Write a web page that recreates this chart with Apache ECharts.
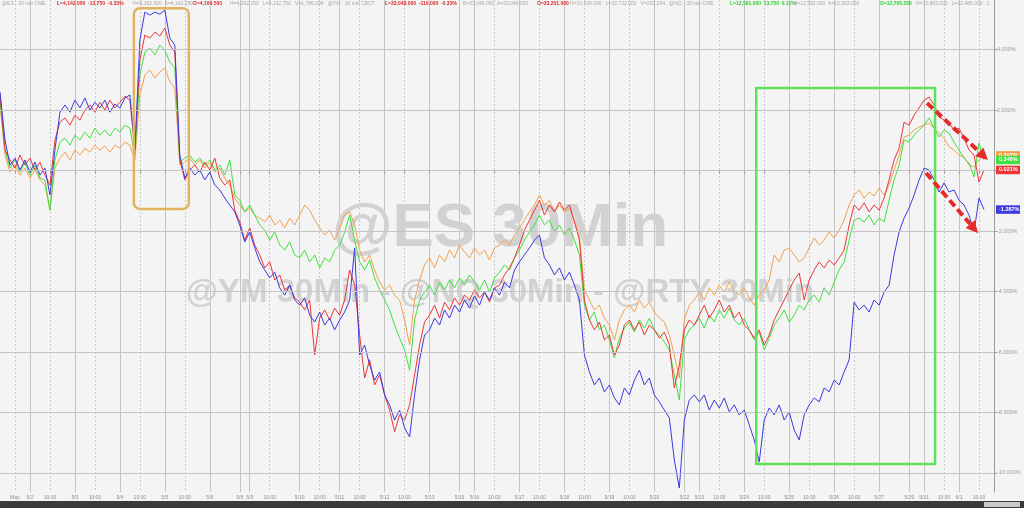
<!DOCTYPE html>
<html><head><meta charset="utf-8">
<script src="https://cdn.jsdelivr.net/npm/echarts@6/dist/echarts.min.js"></script>
<style>html,body{margin:0;padding:0;background:#f4f4f4}#c{width:1024px;height:508px}</style>
</head><body><div id="c"></div>
<script>
// ---- data ----
const slotCount = 200;
const labelSlots = [[3,'May'],[6,'5/2'],[10,'10:00'],[15,'5/3'],[19,'10:00'],[24,'5/4'],[28,'10:00'],[33,'5/5'],[37,'10:00'],[42,'5/6'],[48,'5/8'],[50,'5/9'],[54,'10:00'],[60,'5/10'],[64,'10:00'],[68,'5/11'],[72,'10:00'],[77,'5/12'],[81,'10:00'],[86,'5/13'],[92,'5/15'],[95,'5/16'],[99,'10:00'],[104,'5/17'],[108,'10:00'],[113,'5/18'],[117,'10:00'],[122,'5/19'],[126,'10:00'],[131,'5/20'],[137,'5/22'],[140,'5/23'],[144,'10:00'],[149,'5/24'],[153,'10:00'],[158,'5/25'],[162,'10:00'],[167,'5/26'],[171,'10:00'],[176,'5/27'],[182,'5/29'],[185,'5/31'],[189,'10:00'],[192,'6/1'],[196,'10:00']];

const nq = [2.60,1.01,0.18,0.41,0.02,0.35,-0.05,0.28,-0.15,0.08,
-0.81,0.68,1.93,2.17,1.93,2.33,2.07,2.40,2.00,2.26,
2.07,2.33,1.93,2.20,2.07,2.40,2.50,0.68,4.31,5.24,
5.14,5.24,5.17,5.31,4.38,4.15,0.51,-0.25,0.08,-0.15,
0.02,-0.31,-0.05,-0.48,-0.64,-0.91,-1.14,-1.37,-1.80,-2.36,
-2.03,-2.56,-3.02,-3.29,-3.55,-3.36,-3.88,-4.12,-3.79,-4.28,
-4.45,-4.21,-4.78,-5.01,-4.68,-5.11,-4.88,-5.27,-4.94,-4.68,
-4.28,-2.56,-6.10,-5.77,-6.43,-6.93,-6.66,-7.42,-7.75,-8.25,
-7.92,-8.51,-8.81,-7.42,-6.26,-5.44,-5.27,-4.88,-5.11,-4.61,
-4.88,-4.45,-4.68,-4.28,-4.55,-4.15,-4.45,-4.02,-4.28,-3.88,
-4.12,-3.69,-3.88,-3.29,-3.02,-2.79,-2.56,-2.30,-2.13,-2.89,
-3.12,-3.45,-3.22,-3.62,-3.36,-3.79,-4.28,-6.10,-6.66,-7.09,
-6.86,-7.32,-7.09,-7.52,-7.75,-7.19,-7.42,-6.93,-6.60,-7.09,
-6.86,-7.42,-7.65,-7.92,-8.18,-9.57,-10.50,-8.25,-7.59,-7.42,
-7.65,-7.42,-7.92,-7.59,-7.85,-7.52,-7.98,-7.75,-8.08,-7.92,
-8.41,-8.91,-9.64,-8.25,-7.85,-8.08,-7.75,-8.25,-7.98,-8.58,
-8.91,-8.08,-7.75,-7.52,-7.65,-7.19,-7.32,-6.93,-7.09,-6.66,
-6.26,-4.35,-4.61,-4.45,-4.68,-4.28,-4.45,-4.02,-3.79,-2.79,
-2.03,-1.57,-1.24,-0.81,-0.31,0.08,0.02,-0.31,-0.71,-0.41,
-0.71,-0.64,-0.98,-1.14,-1.47,-2.03,-0.91,-1.287];

const rty = [2.50,0.68,0.35,0.08,0.51,0.18,0.41,0.02,0.28,-0.15,
-0.48,1.01,1.60,1.74,1.50,1.83,1.67,2.00,2.17,1.93,
2.26,2.00,2.33,2.07,2.26,2.46,2.33,0.74,3.65,4.48,
4.38,4.58,4.45,4.71,4.15,3.92,0.35,-0.31,0.02,0.18,
-0.05,0.28,0.02,0.41,-0.25,-0.48,-0.31,-1.31,-1.70,-2.30,
-1.90,-2.46,-2.79,-3.22,-3.02,-3.62,-3.45,-3.95,-3.79,-4.21,
-4.35,-4.61,-4.28,-6.10,-4.88,-4.61,-4.94,-4.55,-4.78,-4.28,
-3.29,-3.79,-5.44,-6.86,-6.26,-7.09,-6.76,-7.42,-7.92,-8.64,
-8.08,-8.25,-7.75,-6.76,-5.77,-5.01,-4.78,-4.45,-4.88,-4.35,
-4.61,-4.21,-4.45,-4.12,-4.28,-3.95,-4.21,-4.02,-4.35,-3.88,
-3.79,-3.45,-3.22,-2.89,-2.46,-1.97,-1.64,-1.31,-0.98,-1.47,
-1.14,-1.37,-1.04,-1.31,-1.14,-1.70,-2.30,-4.28,-4.94,-5.27,
-5.01,-5.60,-5.44,-6.10,-5.77,-5.11,-4.94,-5.27,-5.01,-5.44,
-5.11,-5.27,-5.54,-5.34,-5.77,-7.19,-6.43,-5.27,-4.94,-5.11,
-4.78,-4.45,-4.88,-4.61,-4.28,-4.68,-4.45,-4.88,-4.68,-5.11,
-5.27,-5.54,-5.27,-5.77,-5.44,-4.94,-4.61,-4.28,-3.95,-3.62,
-3.39,-4.28,-3.62,-3.29,-3.02,-3.22,-2.96,-3.12,-2.89,-2.63,
-1.80,-1.14,-1.31,-1.07,-1.37,-1.14,-1.31,-0.91,-0.31,0.35,
0.74,1.60,1.50,1.83,2.07,2.33,2.43,2.17,1.77,1.67,
1.57,1.34,1.40,1.07,0.68,0.51,-0.38,0.021];

const es = [2.33,0.68,0.08,0.35,-0.05,0.28,-0.15,0.18,-0.25,-0.31,
-1.31,0.35,0.94,1.07,0.84,1.17,1.01,1.27,1.07,1.40,
1.17,1.34,1.14,1.40,1.27,1.50,1.40,0.51,3.16,3.92,
4.05,3.82,4.15,3.98,3.59,3.39,0.28,0.41,0.51,0.28,
0.41,0.18,0.35,0.02,0.18,-0.15,0.35,-0.81,-0.98,-1.37,
-1.14,-1.47,-1.80,-1.97,-2.30,-2.03,-2.46,-2.63,-2.36,-2.79,
-2.89,-2.63,-3.02,-2.79,-3.22,-2.89,-3.02,-2.63,-2.46,-2.03,
-1.47,-2.30,-3.02,-3.29,-2.96,-3.55,-3.95,-4.28,-4.61,-5.11,
-5.54,-5.93,-6.60,-4.94,-4.28,-4.02,-3.79,-4.12,-3.69,-3.95,
-3.62,-3.88,-3.55,-3.79,-3.45,-3.69,-3.95,-3.62,-4.02,-3.55,
-3.36,-3.12,-3.29,-2.89,-2.63,-2.30,-2.03,-1.80,-1.47,-1.80,
-1.64,-2.03,-1.80,-2.13,-1.90,-2.30,-2.79,-4.45,-4.94,-4.68,
-5.27,-5.11,-5.60,-6.20,-5.54,-5.21,-5.01,-5.34,-4.94,-5.21,
-4.88,-5.27,-5.44,-5.67,-5.93,-6.76,-7.59,-5.60,-5.27,-5.11,
-4.88,-5.21,-4.78,-5.01,-4.61,-4.88,-4.55,-4.94,-5.11,-4.88,
-5.27,-5.60,-5.34,-5.93,-5.54,-5.11,-4.88,-4.61,-5.01,-4.78,
-4.45,-4.61,-4.28,-4.12,-4.35,-3.88,-4.12,-3.69,-3.29,-3.02,
-2.30,-1.64,-1.57,-1.70,-1.47,-1.80,-1.57,-1.70,-0.98,-0.31,
0.18,1.01,0.94,1.17,1.34,1.50,1.74,1.40,1.11,1.34,
1.24,0.94,0.68,0.41,0.25,-0.21,0.91,0.346];

const ym = [2.17,0.51,-0.05,0.18,-0.15,0.08,-0.25,0.02,-0.31,-0.48,
-1.31,0.08,0.41,0.61,0.35,0.68,0.51,0.74,0.61,0.84,
0.68,0.81,0.61,0.84,0.74,0.94,0.84,0.35,2.50,3.16,
3.32,3.06,3.26,3.39,2.93,2.73,0.18,0.28,0.41,0.18,
0.35,0.08,0.28,-0.05,0.08,-0.25,-0.48,-0.91,-1.14,-1.37,
-1.24,-1.47,-1.57,-1.70,-1.47,-1.80,-1.64,-1.90,-1.57,-1.80,
-1.47,-1.14,-1.31,-1.64,-1.90,-2.13,-1.97,-2.30,-1.90,-1.47,
-1.37,-1.80,-2.63,-3.02,-2.79,-3.29,-3.69,-3.95,-3.79,-4.12,
-4.28,-4.94,-5.77,-4.28,-3.62,-3.12,-2.89,-3.22,-2.79,-3.02,
-2.63,-2.89,-2.46,-2.69,-2.89,-2.56,-2.79,-2.63,-2.96,-2.56,
-2.46,-2.30,-2.46,-2.13,-1.90,-1.64,-1.37,-1.14,-0.81,-1.14,
-0.98,-1.37,-1.14,-1.37,-1.24,-1.64,-2.13,-3.95,-4.28,-4.61,
-4.45,-4.88,-5.11,-5.60,-4.94,-4.61,-4.45,-4.68,-4.28,-4.55,
-4.35,-4.68,-4.88,-5.01,-5.44,-6.10,-6.86,-4.94,-4.45,-4.28,
-4.02,-4.28,-3.88,-4.12,-3.79,-4.02,-3.69,-3.95,-4.12,-3.88,
-4.21,-4.45,-4.12,-3.95,-3.62,-2.79,-3.02,-2.63,-2.56,-2.79,
-3.02,-2.89,-2.56,-2.23,-2.46,-2.30,-2.03,-2.23,-1.97,-1.64,
-1.14,-0.81,-0.64,-0.91,-0.71,-0.84,-0.58,-0.81,-0.48,0.02,
0.51,1.11,1.17,1.34,1.44,1.50,1.57,1.40,1.24,1.07,
0.78,0.68,0.51,0.45,0.18,0.12,0.35,0.497];

const yTicks = [-10,-8,-6,-4,-2,0,2,4];
const yRange = [-10.63, 5.64];

// annotations in data space (x = time slot, y = percent)
const orangeBox = {x:[26.8,37.8], y:[5.37,-1.27]};
const greenBox  = {x:[151.4,187.2], y:[2.73,-9.70]};
const arrows = [[[185.6,2.23],[197.8,0.35]], [[185.4,-0.08],[195.8,-2.07]]];

// ---- build ----
const labelByIndex = new Array(slotCount).fill('');
labelSlots.forEach(([i,l]) => { labelByIndex[i] = l; });
const categories = labelByIndex.map((l,i) => 't' + i);
const idxOf = v => +String(v).slice(1);
const isDate = (i) => labelByIndex[i] !== '' && labelByIndex[i] !== '10:00' && labelByIndex[i] !== 'May';
const isMinor = (i) => labelByIndex[i] === '10:00' || labelByIndex[i] === 'May';

const colors = {nq:'#3a3ae0', rty:'#ec3535', es:'#3fe03f', ym:'#f2a04c'};
const FONT = '"Liberation Sans", Arial, sans-serif';

function lastLabel(data, color) {
  return {
    silent: true, symbol: 'none', animation: false,
    lineStyle: {color: 'rgba(0,0,0,0)', width: 1},
    label: {show: true, position: 'end', distance: 2, formatter: () => data[data.length-1].toFixed(3) + '%',
      backgroundColor: color, color: '#fff', fontSize: 5.5, fontWeight: 'bold', fontFamily: FONT,
      padding: [1.5, 3, 1, 3], width: 18, opacity: 1},
    data: [{yAxis: data[data.length-1]}]
  };
}

function lineSeries(name, data, color) {
  return {name, type: 'line', data, showSymbol: false, symbol: 'none',
    lineStyle: {color, width: 1}, itemStyle: {color}, z: 3,
    markLine: lastLabel(data, color)};
}

const chart = echarts.init(document.getElementById('c'), null, {renderer: 'canvas'});
chart.setOption({
  animation: false,
  backgroundColor: '#f4f4f4',
  grid: {left: 0, right: 30, top: 0, bottom: 16},
  xAxis: [{
    type: 'category', data: categories, boundaryGap: false,
    axisLine: {lineStyle: {color: '#9a9a9a'}},
    axisTick: {show: true, interval: (i) => labelByIndex[i] !== '', length: 3, lineStyle: {color: '#9a9a9a'}},
    axisLabel: {interval: (i) => labelByIndex[i] !== '', formatter: (v) => labelByIndex[idxOf(v)],
      fontSize: 5, color: '#8c8c8c', margin: 3, fontFamily: FONT},
    splitLine: {show: true, interval: (i) => isDate(i), lineStyle: {color: '#c4c4c4', width: 1}}
  }, {
    type: 'category', data: categories, boundaryGap: false, position: 'bottom',
    axisLine: {show: false}, axisTick: {show: false}, axisLabel: {show: false},
    splitLine: {show: true, interval: (i) => isMinor(i), lineStyle: {color: '#c8c8c8', width: 1, type: [2, 2]}}
  }],
  yAxis: {
    type: 'value', position: 'right', min: yRange[0], max: yRange[1],
    axisLine: {show: true, lineStyle: {color: '#9a9a9a'}},
    axisTick: {show: true, customValues: yTicks, length: 3, lineStyle: {color: '#9a9a9a'}},
    axisLabel: {customValues: yTicks, formatter: (v) => v.toFixed(3) + '%', fontSize: 5.5, color: '#9a9a9a', margin: 3, fontFamily: FONT},
    splitLine: {show: false}
  },
  series: [
    {name: 'grid', type: 'line', data: [], z: 1, silent: true,
      markLine: {silent: true, symbol: 'none', animation: false, label: {show: false},
        lineStyle: {color: '#c4c4c4', width: 1, type: 'solid'},
        data: yTicks.map(v => ({yAxis: v}))}},
    lineSeries('YM', ym, colors.ym),
    lineSeries('ES', es, colors.es),
    lineSeries('RTY', rty, colors.rty),
    lineSeries('NQ', nq, colors.nq)
  ]
});

// ---- annotations & decorations ----
function toPx(xf, yv) {
  const i0 = Math.floor(xf), f = xf - i0;
  const a = chart.convertToPixel({seriesIndex: 4}, [i0, yv]);
  const b = chart.convertToPixel({seriesIndex: 4}, [i0 + 1, yv]);
  return [a[0] + f * (b[0] - a[0]), a[1]];
}
function boxRect(box, stroke, r) {
  const p1 = toPx(box.x[0], box.y[0]), p2 = toPx(box.x[1], box.y[1]);
  return {type: 'rect', z: 20, silent: true,
    shape: {x: p1[0], y: p1[1], width: p2[0] - p1[0], height: p2[1] - p1[1], r: r},
    style: {fill: 'none', stroke, lineWidth: 2.5}};
}
function arrowEls(a) {
  const p1 = toPx(a[0][0], a[0][1]), p2 = toPx(a[1][0], a[1][1]);
  const dx = p2[0] - p1[0], dy = p2[1] - p1[1], len = Math.hypot(dx, dy);
  const ux = dx / len, uy = dy / len, L = 12, W = 6;
  const bx = p2[0] - ux * L, by = p2[1] - uy * L;
  return [
    {type: 'line', z: 21, silent: true, shape: {x1: p1[0], y1: p1[1], x2: bx, y2: by},
      style: {stroke: '#e52a2a', lineWidth: 4, lineDash: [8, 4]}},
    {type: 'polygon', z: 21, silent: true,
      shape: {points: [[p2[0], p2[1]], [bx - uy * W, by + ux * W], [bx + uy * W, by - ux * W]]},
      style: {fill: '#e52a2a'}}
  ];
}

const header = [
  ['@ES - 30 min CME', '#a8a8a8', 2], ['L=4,142.000  -13.750  -0.33%', '#e02828', 57],
  ['H=4,162.500  A=4,142.250', '#a8a8a8', 133], ['O=4,164.500', '#e02828', 193],
  ['H=4,202.250   L=4,132.750   V=1,786,094   @YM - 30 min CBOT', '#a8a8a8', 230],
  ['L=33,048.000  -110.000  -0.33%', '#e02828', 385], ['B=33,046.000  A=33,049.000', '#a8a8a8', 463],
  ['O=33,201.000', '#e02828', 537], ['H=33,434.000   L=32,722.000   V=202,254   @NQ - 30 min CME', '#a8a8a8', 570],
  ['L=12,591.000  13.750  0.11%', '#2ad02a', 730], ['B=12,592.000  A=12,593.000', '#a8a8a8', 794],
  ['O=12,705.250', '#2ad02a', 880], ['H=12,883.000   L=12,486.000   1,', '#a8a8a8', 916]
];

const graphics = [
  {type: 'text', z: 0, silent: true, x: 500, y: 229,
    style: {text: '@ES 30Min', font: 'bold 62px ' + FONT, fill: '#d2d2d2', textAlign: 'center', textVerticalAlign: 'middle'}},
  {type: 'text', z: 0, silent: true, x: 500, y: 293,
    style: {text: '@YM 30Min - @NQ 30Min - @RTY 30Min', font: 'bold 33px ' + FONT, fill: '#d2d2d2', textAlign: 'center', textVerticalAlign: 'middle'}},
  boxRect(orangeBox, '#e2b35e', 6),
  boxRect(greenBox, '#5ee25a', 0),
  ...arrowEls(arrows[0]), ...arrowEls(arrows[1]),
  {type: 'rect', z: 30, silent: true, shape: {x: 0, y: 501, width: 1024, height: 7}, style: {fill: '#3b3b3b'}},
  {type: 'rect', z: 31, silent: true, shape: {x: 984, y: 502, width: 36, height: 5}, style: {fill: '#c9c9c9'}}
];
header.forEach(([t, c, x]) => graphics.push({type: 'text', z: 25, silent: true, x: x, y: 4,
  style: {text: t, font: (c === '#a8a8a8' ? '' : 'bold ') + '5px ' + FONT, fill: c, textVerticalAlign: 'middle'}}));

chart.setOption({graphic: graphics});
</script>
</body></html>
